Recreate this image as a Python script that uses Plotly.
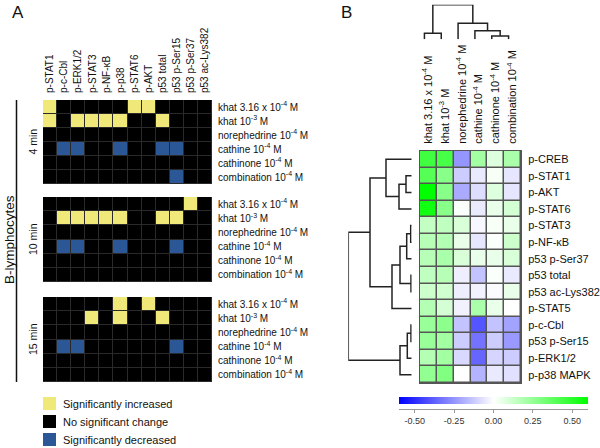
import plotly.graph_objects as go

W, H = 600, 448
FONT = "Liberation Sans, Arial, Helvetica, sans-serif"

# ---------------- Panel A data ----------------
proteins_a = ["p-STAT1", "p-c-Cbl", "p-ERK1/2", "p-STAT3", "p-NF-κB", "p-p38",
              "p-STAT6", "p-AKT", "p53 total", "p53 p-Ser15", "p53 p-Ser37", "p53 ac-Lys382"]
treatments = ["khat 3.16 x 10<sup>-4</sup> M", "khat 10<sup>-3</sup> M",
              "norephedrine 10<sup>-4</sup> M", "cathine 10<sup>-4</sup> M",
              "cathinone 10<sup>-4</sup> M", "combination 10<sup>-4</sup> M"]
time_labels = ["4 min", "10 min", "15 min"]
# 1 = significantly increased, 0 = no significant change, -1 = significantly decreased
block_4min = [
    [1, 0, 0, 0, 0, 0, 1, 1, 0, 0, 0, 0],
    [1, 0, 1, 1, 1, 1, 0, 0, 1, 0, 0, 0],
    [0, 0, 0, 0, 0, 0, 0, 0, 0, 0, 0, 0],
    [0, -1, -1, 0, 0, -1, 0, 0, -1, -1, 0, 0],
    [0, 0, 0, 0, 0, 0, 0, 0, 0, 0, 0, 0],
    [0, 0, 0, 0, 0, 0, 0, 0, 0, -1, 0, 0],
]
block_10min = [
    [0, 0, 0, 0, 0, 0, 0, 0, 0, 0, 1, 0],
    [0, 1, 1, 1, 1, 1, 0, 0, 1, 1, 0, 0],
    [0, 0, 0, 0, 0, 0, 0, 0, 0, 0, 0, 0],
    [0, -1, -1, 0, 0, -1, 0, 0, 0, -1, 0, 0],
    [0, 0, 0, 0, 0, 0, 0, 0, 0, 0, 0, 0],
    [0, 0, 0, 0, 0, 0, 0, 0, 0, 0, 0, 0],
]
block_15min = [
    [0, 0, 0, 0, 0, 1, 0, 1, 0, 0, 0, 0],
    [0, 0, 0, 1, 0, 1, 0, 0, 1, 0, 0, 0],
    [0, 0, 0, 0, 0, 0, 0, 0, 0, 0, 0, 0],
    [0, -1, -1, 0, 0, 0, 0, 0, 0, -1, 0, 0],
    [0, 0, 0, 0, 0, 0, 0, 0, 0, 0, 0, 0],
    [0, 0, 0, 0, 0, 0, 0, 0, 0, 0, 0, 0],
]
legend_labels = ["Significantly increased", "No significant change", "Significantly decreased"]

# ---------------- Panel B data ----------------
proteins_b = ["p-CREB", "p-STAT1", "p-AKT", "p-STAT6", "p-STAT3", "p-NF-κB", "p53 p-Ser37",
              "p53 total", "p53 ac-Lys382", "p-STAT5", "p-c-Cbl", "p53 p-Ser15",
              "p-ERK1/2", "p-p38 MAPK"]
values_b = [
    [0.45, 0.43, -0.25, 0.22, 0.08, 0.20],
    [0.40, 0.28, -0.12, -0.05, 0.02, -0.06],
    [0.60, 0.28, -0.20, -0.08, 0.08, -0.06],
    [0.56, 0.28, 0.01, -0.05, 0.05, 0.10],
    [0.14, 0.15, 0.09, -0.02, 0.02, 0.05],
    [0.17, 0.18, 0.05, -0.06, 0.01, 0.12],
    [0.17, 0.20, 0.09, 0.05, 0.05, 0.09],
    [0.15, 0.17, -0.04, -0.14, 0.01, -0.05],
    [0.12, 0.11, -0.04, -0.03, -0.01, 0.05],
    [0.18, 0.10, -0.03, 0.20, 0.05, 0.00],
    [0.24, 0.27, -0.14, -0.40, -0.14, -0.22],
    [0.24, 0.22, -0.12, -0.33, -0.12, -0.24],
    [0.18, 0.22, -0.09, -0.36, -0.10, -0.12],
    [0.26, 0.30, 0.00, -0.18, -0.05, -0.07],
]
cbar_ticks = [-0.5, -0.25, 0.0, 0.25, 0.5]
# linkage: (child a, child b, merge height); ids >= n refer to earlier merges
row_linkage = [(1, 2, 5.7), (14, 3, 12.7), (0, 15, 25.7), (4, 5, 1.0), (17, 6, 5.0),
               (7, 8, 0.7), (18, 19, 11.7), (20, 9, 19.7), (16, 21, 41.7),
               (10, 11, 0.7), (23, 12, 4.4), (24, 13, 11.7), (22, 25, 63.4)]
col_linkage = [(0, 1, 6.0), (4, 5, 3.3), (3, 7, 8.6), (2, 8, 16.0), (6, 9, 34.6)]


def dendro(n, merges):
    pos = {i: float(i) for i in range(n)}
    hgt = {i: 0.0 for i in range(n)}
    p, h = [], []
    for k, (a, b, mh) in enumerate(merges):
        p += [pos[a], pos[a], pos[b], pos[b], None]
        h += [hgt[a], mh, mh, hgt[b], None]
        pos[n + k] = (pos[a] + pos[b]) / 2
        hgt[n + k] = mh
    return p, h


def px_x(v):
    return v / W


def px_y(v):
    return 1 - v / H


YELLOW, BLUE = "#f1e87a", "#2b5797"
cs_a = [[0, BLUE], [0.3333, BLUE], [0.3333, "#000000"], [0.6667, "#000000"],
        [0.6667, YELLOW], [1, YELLOW]]

fig = go.Figure()

blocks = [block_4min, block_10min, block_15min]
ydoms = [(100, 184), (197, 282), (297, 382)]
yaxes_names = ["y", "y2", "y3"]
for blk, yn in zip(blocks, yaxes_names):
    fig.add_trace(go.Heatmap(z=blk, x=list(range(len(proteins_a))), y=list(range(len(treatments))),
                             colorscale=cs_a, zmin=-1, zmax=1, showscale=False,
                             xgap=1, ygap=1, xaxis="x", yaxis=yn, hoverinfo="skip"))

green_blue = [[0, "#0000ff"], [0.5, "#ffffff"], [1, "#00ff00"]]
fig.add_trace(go.Heatmap(
    z=values_b, x=list(range(len(treatments))), y=list(range(len(proteins_b))),
    colorscale=green_blue, zmin=-0.6, zmax=0.6, xgap=1.5, ygap=1.5,
    xaxis="x4", yaxis="y4", hoverinfo="skip",
    colorbar=dict(orientation="h", x=px_x(493.5), xanchor="center", y=px_y(397), yanchor="top",
                  len=189, lenmode="pixels", thickness=7, thicknessmode="pixels",
                  outlinewidth=0, xpad=0, ypad=0, ticks="", showticklabels=False)))

rp, rh = dendro(len(proteins_b), row_linkage)
fig.add_trace(go.Scatter(x=rh, y=rp, mode="lines", line=dict(color="#222222", width=1.5),
                         xaxis="x5", yaxis="y5", cliponaxis=False, hoverinfo="skip",
                         showlegend=False))
cp, ch = dendro(len(treatments), col_linkage)
fig.add_trace(go.Scatter(x=cp, y=ch, mode="lines", line=dict(color="#222222", width=1.5),
                         xaxis="x6", yaxis="y6", cliponaxis=False, hoverinfo="skip",
                         showlegend=False))
# invisible trace to carry the colour-bar value axis
fig.add_trace(go.Scatter(x=[cbar_ticks[0], cbar_ticks[-1]], y=[0, 0], mode="markers",
                         marker=dict(size=1, opacity=0), xaxis="x7", yaxis="y7",
                         hoverinfo="skip", showlegend=False))

hidden = dict(showgrid=False, zeroline=False, showticklabels=False, ticks="", showline=False)

layout = dict(
    width=W, height=H, autosize=False,
    margin=dict(l=0, r=0, t=0, b=0, pad=0),
    paper_bgcolor="white", plot_bgcolor="rgba(0,0,0,0)",
    font=dict(family=FONT, color="#111111"),
    showlegend=False,
    xaxis=dict(domain=[px_x(43), px_x(212)], range=[-0.5, 11.5], anchor="y", side="top",
               tickmode="array", tickvals=list(range(len(proteins_a))), ticktext=proteins_a,
               tickangle=-90, ticks="outside", ticklen=4, tickcolor="rgba(0,0,0,0)",
               tickfont=dict(size=10), showgrid=False, zeroline=False),
    xaxis4=dict(domain=[px_x(420), px_x(521)], range=[-0.5, 5.5], anchor="y4", side="top",
                tickmode="array", tickvals=list(range(len(treatments))), ticktext=treatments,
                tickangle=-90, ticks="outside", ticklen=4, tickcolor="rgba(0,0,0,0)",
                tickfont=dict(size=11), showgrid=False, zeroline=False),
    yaxis4=dict(domain=[px_y(383), px_y(151)], range=[13.5, -0.5], anchor="x4", side="right",
                tickmode="array", tickvals=list(range(len(proteins_b))), ticktext=proteins_b,
                ticks="outside", ticklen=4, tickcolor="rgba(0,0,0,0)",
                tickfont=dict(size=11), showgrid=False, zeroline=False),
    xaxis5=dict(domain=[px_x(348.3), px_x(411.7)], range=[63.4, 0], anchor="y5", **hidden),
    yaxis5=dict(domain=[px_y(383), px_y(151)], range=[13.5, -0.5], anchor="x5", **hidden),
    xaxis6=dict(domain=[px_x(416), px_x(517)], range=[-0.5, 5.5], anchor="y6", **hidden),
    yaxis6=dict(domain=[px_y(39.3), px_y(4.7)], range=[0, 34.6], anchor="x6", **hidden),
    xaxis7=dict(domain=[px_x(399), px_x(588)], range=[-0.6, 0.6], anchor="y7", side="bottom",
                showline=True, linecolor="#9a9a9a", linewidth=1, ticks="outside", ticklen=3,
                tickcolor="#9a9a9a", tickmode="array", tickvals=cbar_ticks,
                ticktext=[f"{t:.2f}" for t in cbar_ticks],
                tickfont=dict(size=9, color="#333333"), showgrid=False, zeroline=False),
    yaxis7=dict(domain=[px_y(409), px_y(408)], range=[-1, 1], anchor="x7", **hidden),
)
for yn, (t, b) in zip(["yaxis", "yaxis2", "yaxis3"], ydoms):
    layout[yn] = dict(domain=[px_y(b), px_y(t)], range=[5.5, -0.5], anchor="x", side="right",
                      tickmode="array", tickvals=list(range(len(treatments))), ticktext=treatments,
                      ticks="outside", ticklen=3, tickcolor="rgba(0,0,0,0)",
                      tickfont=dict(size=10), showgrid=False, zeroline=False)
fig.update_layout(**layout)

shapes = []
# dark gaps behind panel A blocks
for (t, b) in ydoms:
    shapes.append(dict(type="rect", xref="paper", yref="paper", x0=px_x(43), x1=px_x(212),
                       y0=px_y(b), y1=px_y(t), fillcolor="#2a2a2a", line=dict(width=0),
                       layer="below"))
# grey gaps/border behind panel B heatmap
shapes.append(dict(type="rect", xref="paper", yref="paper", x0=px_x(419), x1=px_x(522),
                   y0=px_y(384), y1=px_y(150), fillcolor="#555555", line=dict(width=0),
                   layer="below"))
# bracket line for B-lymphocytes
shapes.append(dict(type="line", xref="paper", yref="paper", x0=px_x(16.5), x1=px_x(16.5),
                   y0=px_y(100), y1=px_y(382), line=dict(color="#111111", width=1.5)))
# legend keys
leg_colors = [YELLOW, "#000000", BLUE]
leg_tops = [397, 415, 433]
for c, t in zip(leg_colors, leg_tops):
    shapes.append(dict(type="rect", xref="paper", yref="paper", x0=px_x(43), x1=px_x(56),
                       y0=px_y(t + 13), y1=px_y(t), fillcolor=c, line=dict(width=0)))

annotations = [
    dict(text="A", x=px_x(17.5), y=px_y(12.5), font=dict(size=17)),
    dict(text="B", x=px_x(346), y=px_y(12.5), font=dict(size=17)),
    dict(text="B-lymphocytes", x=px_x(9), y=px_y(240), textangle=-90, font=dict(size=13.5)),
]
for lab, (t, b) in zip(time_labels, ydoms):
    annotations.append(dict(text=lab, x=px_x(32.5), y=px_y((t + b) / 2), textangle=-90,
                            font=dict(size=10.5)))
for lab, t in zip(legend_labels, leg_tops):
    annotations.append(dict(text=lab, x=px_x(61), y=px_y(t + 6.5), xanchor="left",
                            font=dict(size=11)))
for a in annotations:
    a.setdefault("xanchor", "center")
    a.update(xref="paper", yref="paper", yanchor="middle", showarrow=False)

fig.update_layout(shapes=shapes, annotations=annotations)

fig.write_html("out.html", config={"displayModeBar": False},
               post_script="document.body.style.margin='0';")
